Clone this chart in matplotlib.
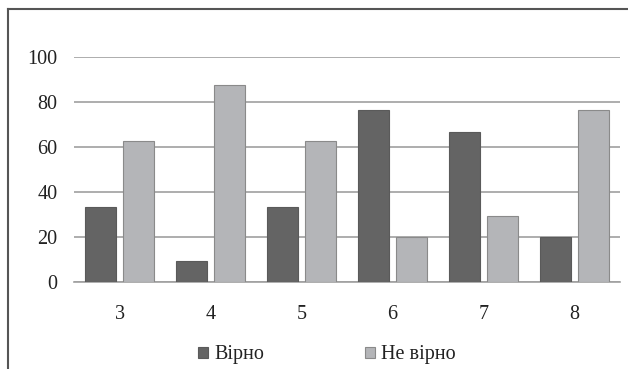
import matplotlib.pyplot as plt
import numpy as np
from matplotlib.patches import Rectangle
from matplotlib.lines import Line2D

# Share of answers per grade (percent)
grades = ["3", "4", "5", "6", "7", "8"]
correct = [33.3, 9, 33.3, 76.2, 66.7, 20]
incorrect = [62.5, 87.5, 62.5, 20, 29.2, 76.2]
series_labels = ["Вірно", "Не вірно"]

plt.rcParams['font.family'] = ['Liberation Serif', 'DejaVu Serif']

dark = '#646464'
light = '#b4b5b8'
edge = '#8a8a8a'
grid_col = '#a0a0a0'

fig = plt.figure(figsize=(6.28, 3.69), dpi=100)
ax = fig.add_axes([74/628, 1 - 281.7/369, 546/628, 225/369])

x = np.arange(len(grades))
width = 0.34
ax.bar(x - 0.205, correct, width, color=dark, edgecolor='#5a5a5a', linewidth=0.8, zorder=3)
ax.bar(x + 0.205, incorrect, width, color=light, edgecolor=edge, linewidth=0.8, zorder=3)

ax.set_xlim(-0.5, len(grades) - 0.5)
ax.set_ylim(0, 100)
ax.set_yticks(np.arange(0, 101, 20))
ax.set_xticks(x)
ax.set_xticklabels(grades)
ax.yaxis.grid(True, color=grid_col, linewidth=1.2, zorder=0)
ax.tick_params(length=0, labelsize=14.5, colors='#222222')
ax.tick_params(axis='y', pad=12)
ax.tick_params(axis='x', pad=17)
for s in ['top', 'right', 'left']:
    ax.spines[s].set_visible(False)
ax.spines['bottom'].set_color(grid_col)
ax.spines['bottom'].set_linewidth(1.2)

# Legend below the plot
handles = [Rectangle((0, 0), 1, 1, facecolor=dark, edgecolor='#5a5a5a', linewidth=0.8),
           Rectangle((0, 0), 1, 1, facecolor=light, edgecolor=edge, linewidth=0.8)]
fig.legend(handles, series_labels, loc='center', bbox_to_anchor=(327/628, 1 - 355/369),
           ncol=2, frameon=False, prop={'family': ['Liberation Serif', 'DejaVu Serif'], 'size': 14.5},
           handlelength=0.5, handleheight=0.5,
           handletextpad=0.3, columnspacing=5.0, labelcolor='#222222')

# Chart frame (top and left edges)
fig.add_artist(Line2D([8/628, 1], [1 - 9/369, 1 - 9/369], color='#555555', linewidth=1.5,
                      transform=fig.transFigure))
fig.add_artist(Line2D([8/628, 8/628], [0, 1 - 9/369], color='#555555', linewidth=1.5,
                      transform=fig.transFigure))

fig.savefig('out.png', dpi=100)
